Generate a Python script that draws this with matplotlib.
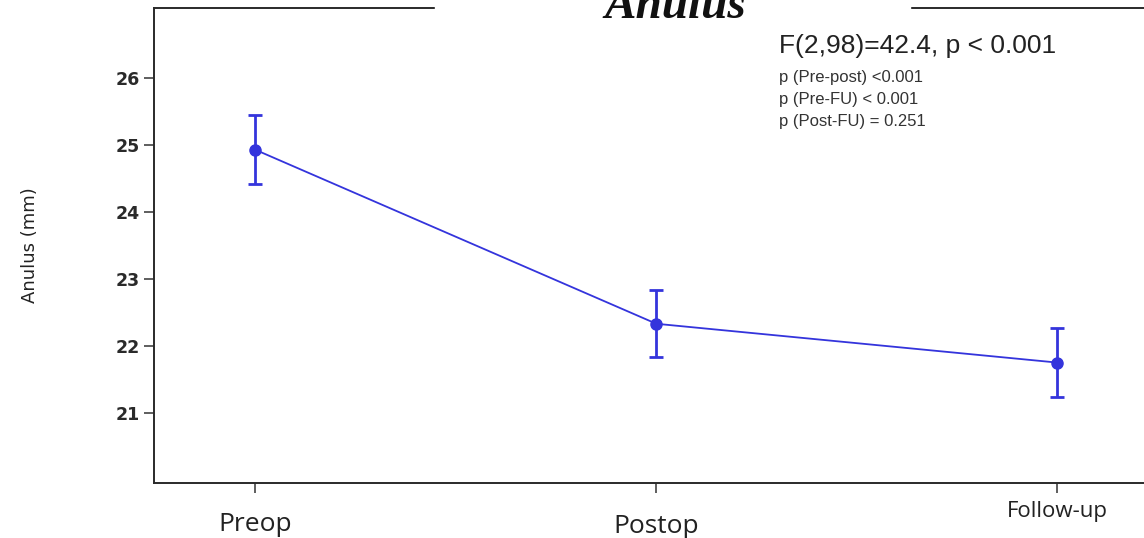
import matplotlib.pyplot as plt
from matplotlib.patches import Rectangle

# data
groups = ["Preop", "Postop", "Follow-up"]
means = [24.93, 22.33, 21.75]
err_hi = [25.45, 22.84, 22.27]
err_lo = [24.42, 21.83, 21.23]
yticks = [21, 22, 23, 24, 25, 26]

blue = "#3434dc"

fig = plt.figure(figsize=(11.44, 5.38), dpi=100)
ax = fig.add_axes([0.1346, 0.1022, 0.872, 0.883])

x = list(range(len(groups)))
yerr = [[m - lo for m, lo in zip(means, err_lo)],
        [hi - m for m, hi in zip(means, err_hi)]]
ax.errorbar(x, means, yerr=yerr, color=blue, lw=1.3, marker="o", ms=8,
            elinewidth=2, capsize=5, capthick=2)

ax.set_xlim(-0.253, 2.235)
ax.set_ylim(19.95, 27.05)
ax.set_yticks(yticks)
ax.set_yticklabels([str(t) for t in yticks], fontsize=12.5,
                   family="DejaVu Sans", weight="bold", color="#2a2a2a")
ax.set_xticks(x)
ax.set_xticklabels([])
for s in ax.spines.values():
    s.set_color("#2a2a2a")
    s.set_linewidth(1.4)
ax.tick_params(direction="out", length=7, width=1.1, color="#333333")

# category labels sit at uneven heights in the original
lab_y = [-0.088, -0.092, -0.06]
lab_size = [19, 19, 16]
for xi, g, yy, fs in zip(x, groups, lab_y, lab_size):
    ax.text(xi, yy, g, transform=ax.get_xaxis_transform(), ha="center",
            va="center", fontsize=fs, family="Open Sans", color="#222222")

ax.set_ylabel("Anulus (mm)", fontsize=13, family=["Liberation Sans Narrow", "DejaVu Sans"],
              color="#222222", labelpad=55)

# stats text
ax.text(0.627, 0.92, "F(2,98)=42.4, p < 0.001", transform=ax.transAxes,
        fontsize=19, family="Liberation Sans", color="#222222", va="center")
stats = ["p (Pre-post) <0.001", "p (Pre-FU) < 0.001", "p (Post-FU) = 0.251"]
for i, s in enumerate(stats):
    ax.text(0.627, 0.853 - i * 0.0455, s, transform=ax.transAxes,
            fontsize=12, family="Liberation Sans", color="#333333", va="center")

# title on a white box that hides part of the top frame
fig.patches.append(Rectangle((435 / 1144, 0.96), (910 - 435) / 1144, 0.05,
                             transform=fig.transFigure, color="white", zorder=5))
fig.text(675 / 1144, 1 - 18 / 538, "Anulus", ha="center", va="baseline",
         fontsize=34, family="Liberation Serif", style="italic", weight="bold",
         color="#111111", zorder=6)

fig.savefig("out.png", dpi=100)
